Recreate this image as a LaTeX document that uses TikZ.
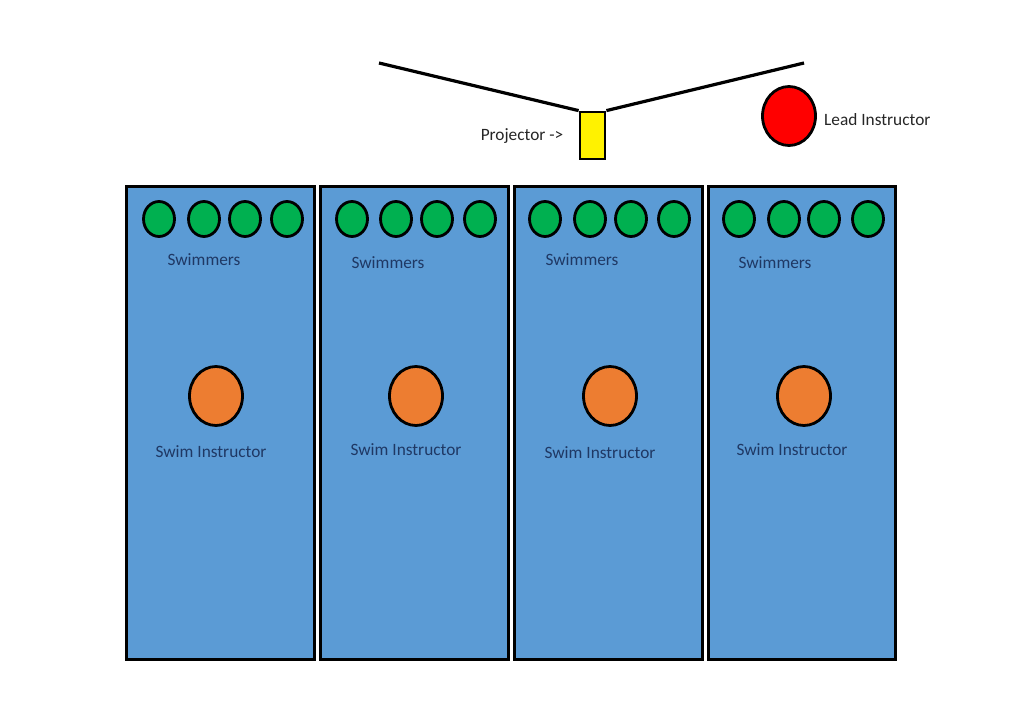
\documentclass[tikz,border=0pt]{standalone}
\usepackage{fontspec}
\setmainfont{Carlito}
\usetikzlibrary{shapes.geometric}
\definecolor{laneblue}{HTML}{5B9BD5}
\definecolor{swimgreen}{HTML}{00B050}
\definecolor{instorange}{HTML}{ED7D31}
\definecolor{navytext}{HTML}{1F3864}
\definecolor{darktext}{HTML}{262626}
\tikzset{
  lane/.style={draw=black, line width=3pt, fill=laneblue},
  swimmer/.style={ellipse, draw=black, line width=2.8pt, fill=swimgreen, minimum width=31pt, minimum height=35pt, inner sep=0pt},
  instructor/.style={ellipse, draw=black, line width=2.8pt, fill=instorange, minimum width=53pt, minimum height=59pt, inner sep=0pt},
  leadinst/.style={ellipse, draw=black, line width=2.8pt, fill=red, minimum width=53pt, minimum height=59pt, inner sep=0pt},
  lanelabel/.style={text=navytext, font=\fontsize{17.3}{20}\selectfont, inner sep=0pt},
  toplabel/.style={text=darktext, font=\fontsize{17.3}{20}\selectfont, inner sep=0pt},
  wall/.style={draw=black, line width=3.2pt},
  projbox/.style={draw=black, line width=2.8pt, fill=yellow, minimum width=25pt, minimum height=47pt, inner sep=0pt}
}
\begin{document}
\begin{tikzpicture}[x=1pt,y=-1pt]
\useasboundingbox[fill=white] (0,0) rectangle (1024,722);
% lanes
\draw[lane] (126,186) rectangle (314,659);
\draw[lane] (320,186) rectangle (508,659);
\draw[lane] (514,186) rectangle (702,659);
\draw[lane] (708,186) rectangle (895,659);
% swimmers
\foreach \x [count=\i] in {159,204,245,287,352,396,437,480,545,590,631,674,739,784,824,868}
  \node[swimmer] (s\i) at (\x,219) {};
\node[lanelabel] (sw1) at (204,260) {Swimmers};
\node[lanelabel] (sw2) at (388,263) {Swimmers};
\node[lanelabel] (sw3) at (582,260) {Swimmers};
\node[lanelabel] (sw4) at (775,263) {Swimmers};
% instructors
\node[instructor] (i1) at (216,396) {};
\node[instructor] (i2) at (416,396) {};
\node[instructor] (i3) at (610,396) {};
\node[instructor] (i4) at (804,396) {};
\node[lanelabel] (il1) at (211,452) {Swim Instructor};
\node[lanelabel] (il2) at (406,450) {Swim Instructor};
\node[lanelabel] (il3) at (600,453) {Swim Instructor};
\node[lanelabel] (il4) at (792,450) {Swim Instructor};
% projector
\node[projbox] (proj) at (592.5,135.5) {};
\coordinate (wl) at (379,63);
\coordinate (wr) at (804,63);
\draw[wall] (wl) -- (proj.north west);
\draw[wall] (proj.north east) -- (wr);
\node[toplabel] (projlabel) at (522,136) {Projector ->};
% lead instructor
\node[leadinst] (lead) at (789,116) {};
\node[toplabel, anchor=west] (leadlabel) at (824,120) {Lead Instructor};
\end{tikzpicture}
\end{document}
